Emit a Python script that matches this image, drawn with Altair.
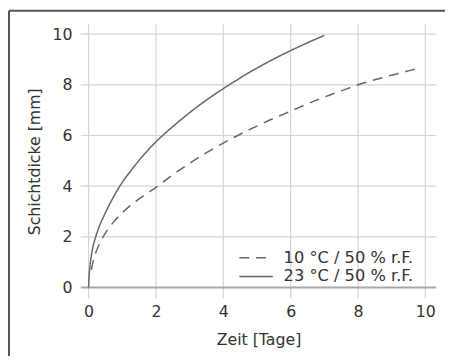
import altair as alt
import pandas as pd

series_names = ["10 °C / 50 % r.F.", "23 °C / 50 % r.F."]

t_10 = [0.08, 0.15, 0.25, 0.35, 0.5, 0.75, 1.0, 1.5, 2.0, 2.5, 3.0, 3.5, 4.0, 4.5,
        5.0, 5.5, 6.0, 6.5, 7.0, 7.5, 8.0, 8.5, 9.0, 9.5, 9.8]
d_10 = [0.7, 1.1, 1.5, 1.8, 2.15, 2.6, 2.95, 3.5, 3.95, 4.45, 4.9, 5.32, 5.7, 6.05,
        6.37, 6.68, 6.96, 7.25, 7.52, 7.76, 8.0, 8.2, 8.38, 8.55, 8.65]

t_23 = [0.0, 0.02, 0.05, 0.1, 0.2, 0.3, 0.5, 0.75, 1.0, 1.25, 1.5, 1.75, 2.0, 2.5,
        3.0, 3.5, 4.0, 4.5, 5.0, 5.5, 6.0, 6.5, 7.0]
d_23 = [0.0, 0.55, 0.95, 1.4, 1.95, 2.35, 2.95, 3.6, 4.15, 4.6, 5.02, 5.4, 5.75, 6.35,
        6.9, 7.4, 7.85, 8.27, 8.66, 9.02, 9.35, 9.66, 9.95]

x_ticks = [0, 2, 4, 6, 8, 10]
y_ticks = [0, 2, 4, 6, 8, 10]
dash_styles = [[10, 7], [1, 0]]

rows = []
for t, d in zip(t_10, d_10):
    rows.append({"Zeit": t, "Dicke": d, "Serie": series_names[0]})
for t, d in zip(t_23, d_23):
    rows.append({"Zeit": t, "Dicke": d, "Serie": series_names[1]})
df = pd.DataFrame(rows)

FONT = "DejaVu Sans"
TXT = "#333333"
LINE = "#666666"
W, H = 361, 278

xscale = alt.Scale(domain=[-0.23, 10.32], nice=False, zero=False)
yscale = alt.Scale(domain=[-0.42, 10.38], nice=False, zero=False)
xaxis = alt.Axis(title="Zeit [Tage]", values=x_ticks, format="d")
yaxis = alt.Axis(title="Schichtdicke [mm]", values=y_ticks, format="d")

one = pd.DataFrame({"a": [0]})
frame_top = alt.Chart(one).mark_rule(color="#555555", strokeWidth=2, clip=False).encode(
    x=alt.value(-73), x2=alt.value(W + 20), y=alt.value(-14)
)
frame_left = alt.Chart(one).mark_rule(color="#555555", strokeWidth=2, clip=False).encode(
    x=alt.value(-73), y=alt.value(-14), y2=alt.value(H + 80)
)

vgrid = alt.Chart(pd.DataFrame({"Zeit": x_ticks})).mark_rule(
    color="#d4d4d4", strokeWidth=1.2
).encode(x=alt.X("Zeit:Q", scale=xscale, axis=xaxis))
hgrid = alt.Chart(pd.DataFrame({"Dicke": y_ticks[1:]})).mark_rule(
    color="#d4d4d4", strokeWidth=1.2
).encode(y=alt.Y("Dicke:Q", scale=yscale, axis=yaxis))
zero_rule = alt.Chart(pd.DataFrame({"Dicke": [0]})).mark_rule(
    color="#a8a8a8", strokeWidth=2
).encode(y=alt.Y("Dicke:Q", scale=yscale, axis=yaxis))

lines = alt.Chart(df).mark_line(
    color=LINE, strokeWidth=1.5, interpolate="monotone"
).encode(
    x=alt.X("Zeit:Q", scale=xscale, axis=xaxis),
    y=alt.Y("Dicke:Q", scale=yscale, axis=yaxis),
    strokeDash=alt.StrokeDash(
        "Serie:N",
        scale=alt.Scale(domain=series_names, range=dash_styles),
        legend=None,
    ),
    detail="Serie:N",
)

# legend drawn by hand
leg_layers = []
leg_y = [237, 256]
for name, dash, yy in zip(series_names, dash_styles, leg_y):
    ld = pd.DataFrame({"Serie": [name]})
    leg_layers.append(
        alt.Chart(ld).mark_rule(color=LINE, strokeWidth=1.5, strokeDash=dash).encode(
            x=alt.value(161), x2=alt.value(195), y=alt.value(yy)
        )
    )
    leg_layers.append(
        alt.Chart(ld).mark_text(
            align="left", baseline="middle", font=FONT, fontSize=16.5, color=TXT
        ).encode(x=alt.value(206), y=alt.value(yy), text="Serie:N")
    )

chart = alt.layer(vgrid, hgrid, zero_rule, lines, frame_top, frame_left, *leg_layers).properties(
    width=W, height=H,
    autosize=alt.AutoSizeParams(type="none"),
    padding={"left": 74, "top": 14, "right": 9, "bottom": 56},
).configure_view(stroke=None).configure_axis(
    domain=False, ticks=False, grid=False,
    labelFont=FONT, labelFontSize=16, labelColor=TXT,
    titleFont=FONT, titleFontSize=16, titleColor=TXT, titleFontWeight="normal",
).configure_axisX(labelPadding=6, titlePadding=12).configure_axisY(
    labelPadding=9, titlePadding=10
)

chart.save("out.html", embed_options={"renderer": "svg", "actions": False})
